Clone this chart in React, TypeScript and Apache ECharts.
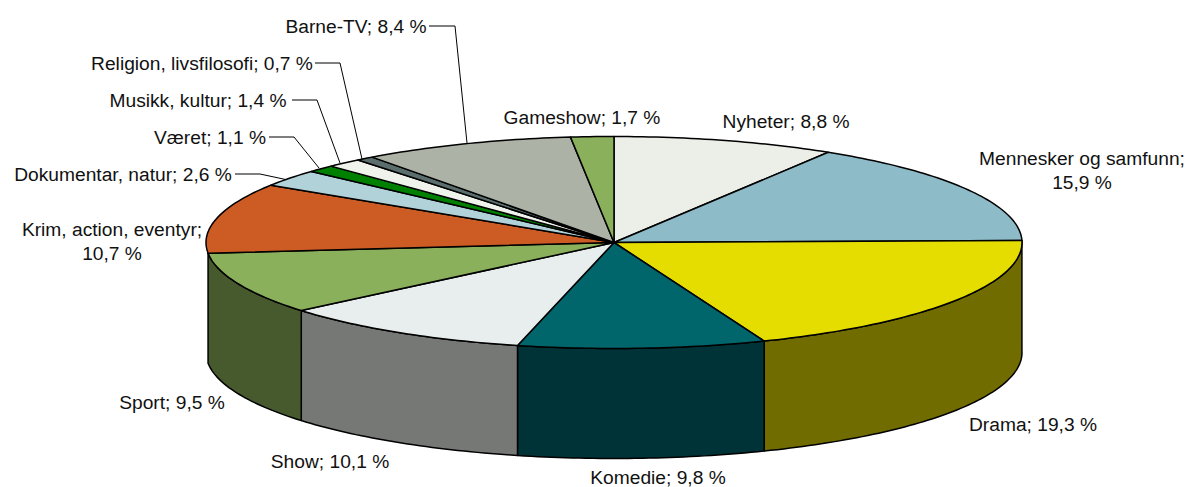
import React, { useEffect, useRef } from "react";
import * as echarts from "echarts";

const categories = [
  "Nyheter", "Mennesker og samfunn", "Drama", "Komedie", "Show", "Sport",
  "Krim, action, eventyr", "Dokumentar, natur", "Været", "Musikk, kultur",
  "Religion, livsfilosofi", "Barne-TV", "Gameshow",
];
const shares = [8.8, 15.9, 19.3, 9.8, 10.1, 9.5, 10.7, 2.6, 1.1, 1.4, 0.7, 8.4, 1.7];
const topColors = [
  "#ECEEE8", "#8DBBC8", "#E5DC00", "#00666B", "#E8EEEE", "#8AB05C", "#CC5C24",
  "#B0D2D8", "#008000", "#F0F2EC", "#5A6E6E", "#ACB2A6", "#8AB05C",
];
const wallColors = [
  "#767770", "#465E64", "#716C00", "#003338", "#767876", "#465A2E", "#662E12",
  "#586A6C", "#004000", "#787972", "#2D3737", "#565953", "#465A2E",
];

// centre x, centre y of the first line of each label
const labelLayout: [number, number][] = [
  [786, 121], [1082, 158], [1033, 424], [658, 477], [330, 461], [172, 402],
  [112, 229], [123, 174], [210, 137], [198, 100], [202, 63], [356, 26], [582, 117],
];
const twoLine = [1, 6];
const leaders: [number, number][][] = [
  [[235, 174], [260, 174], [288, 180]],
  [[269, 137], [294, 137], [319, 168]],
  [[292, 100], [317, 100], [340, 163]],
  [[315, 63], [340, 63], [362, 159]],
  [[429, 26], [455, 26], [467, 143]],
];

const CX = 614, CY = 242.5, RX = 408, RY = 106, DEPTH = 110;
const FONT = '"Liberation Sans", Arial, sans-serif';

const total = shares.reduce((a, b) => a + b, 0);
const pt = (deg: number, dy = 0): number[] => {
  const r = (deg * Math.PI) / 180;
  return [CX + RX * Math.sin(r), CY + dy - RY * Math.cos(r)];
};
const arc = (a: number, b: number, dy = 0): number[][] => {
  const n = Math.max(2, Math.ceil(Math.abs(b - a) / 1));
  const out: number[][] = [];
  for (let i = 0; i <= n; i++) out.push(pt(a + ((b - a) * i) / n, dy));
  return out;
};

export default function App() {
  const ref = useRef<HTMLDivElement>(null);
  useEffect(() => {
    document.body.style.margin = "0";
    const chart = echarts.init(ref.current!, undefined, { renderer: "svg" });
    const starts: number[] = [];
    shares.reduce((acc, v) => {
      starts.push(acc);
      return acc + v;
    }, 0);

    const renderItem = (params: any, api: any) => {
      const i = params.dataIndex;
      const a0 = (starts[i] / total) * 360;
      const a1 = a0 + (api.value(0) / total) * 360;
      const mid = (a0 + a1) / 2;
      const children: any[] = [];
      if (mid > 90 && mid < 270) {
        children.push({
          type: "polygon",
          shape: { points: [...arc(a0, a1), ...arc(a1, a0, DEPTH)] },
          style: { fill: wallColors[i], stroke: "#000", lineWidth: 1.5, lineJoin: "round" },
        });
      }
      children.push({
        type: "polygon",
        shape: { points: [[CX, CY], ...arc(a0, a1)] },
        style: { fill: topColors[i], stroke: "#000", lineWidth: 1.5, lineJoin: "round" },
      });
      return { type: "group", children };
    };

    const fmt = (v: number) => v.toFixed(1).replace(".", ",") + " %";
    const texts: any[] = [];
    categories.forEach((c, i) => {
      const [x, y] = labelLayout[i];
      const lines = twoLine.includes(i) ? [c + ";", fmt(shares[i])] : [c + "; " + fmt(shares[i])];
      lines.forEach((t, k) =>
        texts.push({
          type: "text",
          x,
          y: y + k * 24.5,
          silent: true,
          style: { text: t, fill: "#111", font: `19.2px ${FONT}`, align: "center", verticalAlign: "middle" },
        })
      );
    });
    const lines = leaders.map((points) => ({
      type: "polyline",
      silent: true,
      shape: { points },
      style: { stroke: "#000", lineWidth: 1, fill: "none" },
    }));

    chart.setOption({
      animation: false,
      backgroundColor: "#fff",
      tooltip: { show: false },
      graphic: { elements: [...lines, ...texts] },
      series: [
        {
          type: "custom",
          coordinateSystem: "none",
          silent: true,
          clip: false,
          renderItem,
          data: shares.map((v, i) => ({ name: categories[i], value: [v] })),
        },
      ],
    });
    return () => chart.dispose();
  }, []);
  return <div ref={ref} style={{ width: 1187, height: 487 }} />;
}
